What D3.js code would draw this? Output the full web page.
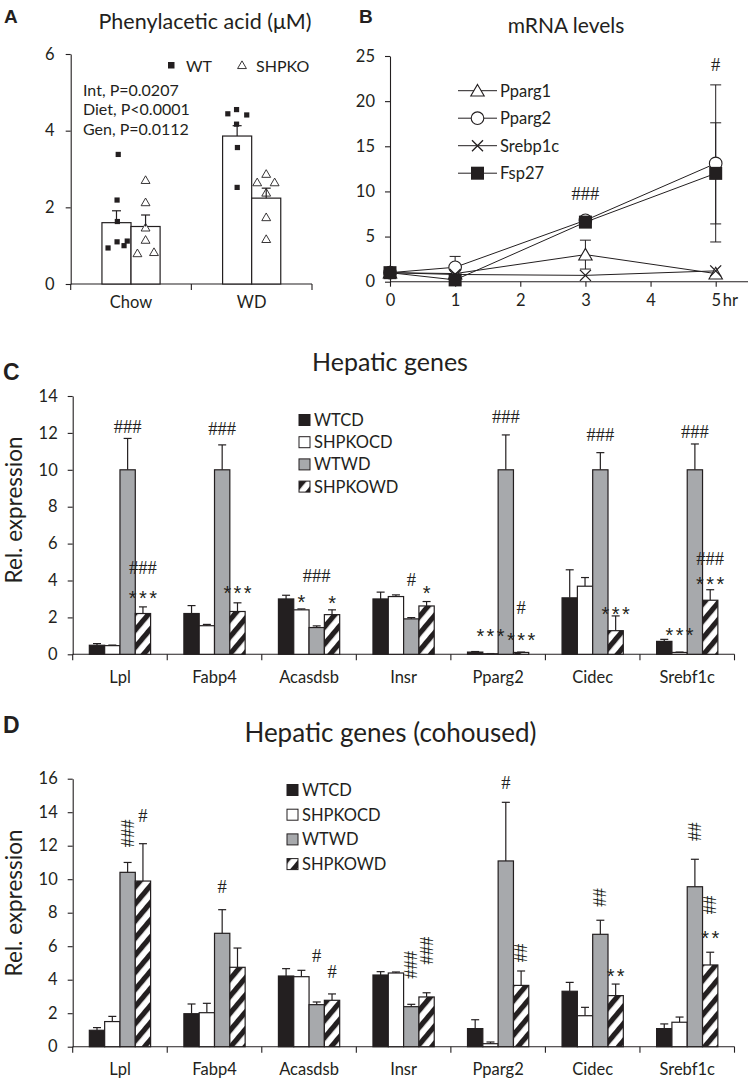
<!DOCTYPE html>
<html><head><meta charset="utf-8">
<script src="https://cdn.jsdelivr.net/npm/d3@7"></script>
<style>
body{margin:0;background:#fff}
svg{display:block}
text{font-family:Lato,'Open Sans',sans-serif;fill:#231f20}
</style>
</head><body>
<svg id="chart" width="750" height="1078"></svg>
<script>
// ---------- Panel A data ----------
const aDiets = ["Chow", "WD"];
const aGenotypes = ["WT", "SHPKO"];
const aMeanWT = [1.60, 3.86];
const aSemWT = [0.31, 0.27];
const aMeanKO = [1.50, 2.24];
const aSemKO = [0.30, 0.26];
const aPtsWTChow = [3.38, 2.19, 1.63, 0.94, 1.10, 1.00, 1.12];
const aPtsKOChow = [2.71, 2.13, 1.47, 1.15, 0.80, 0.83];
const aPtsWTWD = [4.44, 4.55, 4.17, 4.41, 3.56, 2.52];
const aPtsKOWD = [2.65, 2.87, 2.65, 2.38, 1.74, 1.17];
const aStats = ["Int, P=0.0207", "Diet, P<0.0001", "Gen, P=0.0112"];
const aTicks = [0, 2, 4, 6];
// jitter (fraction of bar width) – layout only
const jWTChow = [0.06, 0.02, 0.03, -0.29, 0.02, 0.26, 0.37];
const jKOChow = [0, 0, 0, 0, -0.28, 0.29];
const jWTWD = [-0.32, -0.02, -0.02, 0.33, 0.01, 0];
const jKOWD = [-0.31, 0, 0.29, 0, 0, 0];

// ---------- Panel B data ----------
const bTimes = [0, 1, 3, 5];
const bSeries = ["Pparg1", "Pparg2", "Srebp1c", "Fsp27"];
const bPparg1 = [1.0, 0.9, 3.0, 0.9];
const bPparg1Err = [0, 0, 1.6, 0];
const bPparg2 = [1.0, 1.6, 6.8, 13.1];
const bPparg2Err = [0, 1.2, 0.3, 8.7];
const bSrebp1c = [1.0, 0.8, 0.7, 1.2];
const bSrebp1cErr = [0, 0, 0, 0];
const bFsp27 = [1.0, 0.2, 6.6, 12.0];
const bFsp27Err = [0, 0, 0.3, 5.6];
const bYTicks = [0, 5, 10, 15, 20, 25];
const bXTicks = [0, 1, 2, 3, 4, 5];
const bAnn = [[3, 9.7, "###"], [5, 24.0, "#"]];

// ---------- Panel C / D data ----------
const genes = ["Lpl", "Fabp4", "Acasdsb", "Insr", "Pparg2", "Cidec", "Srebf1c"];
const groups = ["WTCD", "SHPKOCD", "WTWD", "SHPKOWD"];

const cWTCD = [0.49, 2.21, 3.00, 3.00, 0.12, 3.06, 0.70];
const cWTCDErr = [0.09, 0.43, 0.20, 0.37, 0.03, 1.52, 0.11];
const cSHPKOCD = [0.47, 1.55, 2.41, 3.13, 0.03, 3.69, 0.10];
const cSHPKOCDErr = [0.03, 0.07, 0.05, 0.09, 0.01, 0.47, 0.02];
const cWTWD = [10, 10, 1.45, 1.92, 10, 10, 10];
const cWTWDErr = [1.70, 1.35, 0.09, 0.07, 1.89, 0.93, 1.40];
const cSHPKOWD = [2.21, 2.32, 2.15, 2.62, 0.10, 1.28, 2.93];
const cSHPKOWDErr = [0.36, 0.47, 0.26, 0.24, 0.02, 0.80, 0.57];
const cTicks = [0, 2, 4, 6, 8, 10, 12, 14];
// [gene, group, text, y (data units, text centre), rotated]
const cAnn = [
  ["Lpl", "WTWD", "###", 12.34, 0], ["Lpl", "SHPKOWD", "###", 4.66, 0], ["Lpl", "SHPKOWD", "***", 3.39, 0],
  ["Fabp4", "WTWD", "###", 12.2, 0], ["Fabp4", "SHPKOWD", "***", 3.66, 0],
  ["Acasdsb", "WTWD", "###", 4.24, 0], ["Acasdsb", "SHPKOCD", "*", 3.16, 0], ["Acasdsb", "SHPKOWD", "*", 3.09, 0],
  ["Insr", "WTWD", "#", 4.03, 0], ["Insr", "SHPKOWD", "*", 3.66, 0],
  ["Pparg2", "SHPKOCD", "***", 1.32, 0], ["Pparg2", "WTWD", "###", 12.88, 0], ["Pparg2", "SHPKOWD", "#", 2.49, 0], ["Pparg2", "SHPKOWD", "***", 1.08, 0],
  ["Cidec", "WTWD", "###", 11.89, 0], ["Cidec", "SHPKOWD", "***", 2.49, 0],
  ["Srebf1c", "WTWD", "###", 12.07, 0], ["Srebf1c", "SHPKOCD", "***", 1.36, 0], ["Srebf1c", "SHPKOWD", "###", 5.15, 0], ["Srebf1c", "SHPKOWD", "***", 4.12, 0]
];

const dWTCD = [0.98, 1.97, 4.22, 4.28, 1.08, 3.31, 1.08];
const dWTCDErr = [0.16, 0.58, 0.44, 0.20, 0.53, 0.53, 0.28];
const dSHPKOCD = [1.50, 2.03, 4.18, 4.40, 0.18, 1.85, 1.46];
const dSHPKOCDErr = [0.31, 0.56, 0.38, 0.06, 0.10, 0.50, 0.31];
const dWTWD = [10.41, 6.77, 2.51, 2.39, 11.09, 6.71, 9.55];
const dWTWDErr = [0.59, 1.41, 0.16, 0.14, 3.50, 0.84, 1.64];
const dSHPKOWD = [9.89, 4.74, 2.77, 2.97, 3.66, 3.05, 4.88];
const dSHPKOWDErr = [2.23, 1.15, 0.38, 0.25, 0.86, 0.69, 0.76];
const dTicks = [0, 2, 4, 6, 8, 10, 12, 14, 16];
const dAnn = [
  ["Lpl", "WTWD", "###", 12.74, 1], ["Lpl", "SHPKOWD", "#", 13.77, 0],
  ["Fabp4", "WTWD", "#", 9.52, 0],
  ["Acasdsb", "WTWD", "#", 5.43, 0], ["Acasdsb", "SHPKOWD", "#", 4.44, 0],
  ["Insr", "WTWD", "###", 4.88, 1], ["Insr", "SHPKOWD", "###", 5.73, 1],
  ["Pparg2", "WTWD", "#", 15.73, 0], ["Pparg2", "SHPKOWD", "##", 5.59, 1],
  ["Cidec", "WTWD", "##", 8.91, 1], ["Cidec", "SHPKOWD", "**", 4.58, 0],
  ["Srebf1c", "WTWD", "##", 12.84, 1], ["Srebf1c", "SHPKOWD", "##", 8.46, 1], ["Srebf1c", "SHPKOWD", "**", 6.87, 0]
];

// ---------- drawing ----------
const INK = "#231f20";
const GRAY = "#a7a9ac";
const fmtInt = d3.format("d");
const svg = d3.select("#chart");
svg.append("rect").attr("width", 750).attr("height", 1078).attr("fill", "#fff");

const defs = svg.append("defs");
const pat = defs.append("pattern").attr("id", "hatch").attr("patternUnits", "userSpaceOnUse")
  .attr("width", 11).attr("height", 11).attr("patternTransform", "rotate(40)");
pat.append("rect").attr("width", 11).attr("height", 11).attr("fill", "#fff");
pat.append("rect").attr("width", 5.2).attr("height", 11).attr("fill", INK);

function panelLetter(x, y, t, size) {
  svg.append("text").attr("x", x).attr("y", y).text(t)
    .style("font-family", "'Liberation Sans',Arial,sans-serif").style("font-weight", "bold").style("font-size", size + "px");
}
function title(x, y, t, size) {
  svg.append("text").attr("x", x).attr("y", y).attr("text-anchor", "middle").text(t).style("font-size", size + "px");
}
function styleAxis(g) {
  g.selectAll("path.domain").attr("stroke", INK).attr("stroke-width", 1.1);
  g.selectAll(".tick line").attr("stroke", INK).attr("stroke-width", 1.1);
  g.selectAll(".tick text").style("fill", INK);
}

// ===== Panel A =====
panelLetter(4, 23, "A", 19);
title(205, 29, "Phenylacetic acid (\u03bcM)", 21.5);
{
  const yA = d3.scaleLinear([0, 6], [284, 54]);
  const xA = d3.scaleBand(aDiets, [70.7, 312]);
  const bw = xA.bandwidth();
  const xIn = d3.scaleBand(aGenotypes, [bw * 0.259, bw * 0.741]);
  const g = svg.append("g");
  const ya = g.append("g").attr("transform", "translate(70.7,0)")
    .call(d3.axisLeft(yA).tickValues(aTicks).tickFormat(fmtInt).tickSize(5).tickSizeOuter(0).tickPadding(11));
  ya.selectAll("text").style("font-size", "16.5px").style("font-family", "Lato,sans-serif");
  styleAxis(ya);
  const [x0, x1] = xA.range();
  g.append("line").attr("x1", x0).attr("x2", x1).attr("y1", yA(0)).attr("y2", yA(0)).attr("stroke", INK).attr("stroke-width", 1.1);
  [...aDiets.map(d => xA(d)), x1].forEach(v => g.append("line").attr("x1", v).attr("x2", v).attr("y1", yA(0)).attr("y2", yA(0) + 6).attr("stroke", INK).attr("stroke-width", 1.1));
  aDiets.forEach(d => g.append("text").attr("x", xA(d) + bw / 2).attr("y", yA(0) + 18).attr("text-anchor", "middle").attr("dominant-baseline", "central").style("font-size", "16.5px").text(d));

  const means = [aMeanWT, aMeanKO], sems = [aSemWT, aSemKO];
  const pts = [[aPtsWTChow, aPtsWTWD], [aPtsKOChow, aPtsKOWD]];
  const jit = [[jWTChow, jWTWD], [jKOChow, jKOWD]];
  aGenotypes.forEach((gt, gi) => {
    aDiets.forEach((d, di) => {
      const x = xA(d) + xIn(gt), w = xIn.bandwidth(), cx = x + w / 2;
      const m = means[gi][di], s = sems[gi][di];
      g.append("rect").attr("x", x).attr("y", yA(m)).attr("width", w).attr("height", yA(0) - yA(m))
        .attr("fill", "#fff").attr("stroke", INK).attr("stroke-width", 1.2);
      pts[gi][di].forEach((v, k) => {
        const px = cx + jit[gi][di][k] * w;
        if (gi === 0) {
          g.append("rect").attr("x", px - 2.6).attr("y", yA(v) - 2.6).attr("width", 5.2).attr("height", 5.2).attr("fill", INK);
        } else {
          g.append("path").attr("d", d3.symbol(d3.symbolTriangle, 34)()).attr("transform", `translate(${px},${yA(v) + 0.8})`)
            .attr("fill", "#fff").attr("stroke", INK).attr("stroke-width", 0.9);
        }
      });
      g.append("line").attr("x1", cx).attr("x2", cx).attr("y1", yA(m)).attr("y2", yA(m + s)).attr("stroke", INK).attr("stroke-width", 1.2);
      g.append("line").attr("x1", cx - 4.5).attr("x2", cx + 4.5).attr("y1", yA(m + s)).attr("y2", yA(m + s)).attr("stroke", INK).attr("stroke-width", 1.2);
    });
  });
  g.append("rect").attr("x", 168).attr("y", 62).attr("width", 6.5).attr("height", 6.5).attr("fill", INK);
  g.append("text").attr("x", 186).attr("y", 65).attr("dominant-baseline", "central").style("font-size", "16px").text(aGenotypes[0]);
  g.append("path").attr("d", d3.symbol(d3.symbolTriangle, 34)()).attr("transform", "translate(242,66)")
    .attr("fill", "#fff").attr("stroke", INK).attr("stroke-width", 0.9);
  g.append("text").attr("x", 256).attr("y", 65).attr("dominant-baseline", "central").style("font-size", "16px").text(aGenotypes[1]);
  aStats.forEach((s, i) => g.append("text").attr("x", 83).attr("y", 89 + i * 19.5).attr("dominant-baseline", "central").style("font-size", "16px").text(s));
}

// ===== Panel B =====
panelLetter(359, 23, "B", 19);
title(566, 33, "mRNA levels", 21);
{
  const yB = d3.scaleLinear([0, 25], [281.7, 56]);
  const xB = d3.scaleLinear([0, 5], [390, 715.7]);
  const g = svg.append("g");
  const ya = g.append("g").attr("transform", "translate(390,0)")
    .call(d3.axisLeft(yB).tickValues(bYTicks).tickFormat(fmtInt).tickSize(5).tickSizeOuter(0).tickPadding(10));
  ya.selectAll("text").style("font-size", "16.5px");
  styleAxis(ya);
  const xa = g.append("g").attr("transform", `translate(0,${yB(0)})`)
    .call(d3.axisBottom(xB).tickValues(bXTicks).tickFormat(fmtInt).tickSize(5).tickSizeOuter(0).tickPadding(8));
  xa.select("path.domain").remove();
  xa.selectAll("text").style("font-size", "16.5px");
  styleAxis(xa);
  g.append("line").attr("x1", 390).attr("x2", 748).attr("y1", yB(0)).attr("y2", yB(0)).attr("stroke", INK).attr("stroke-width", 1.1);
  g.append("text").attr("x", xB(5) + 7).attr("y", yB(0) + 13).attr("dy", "0.71em").style("font-size", "16.5px").text("hr");

  const vals = [bPparg1, bPparg2, bSrebp1c, bFsp27];
  const errs = [bPparg1Err, bPparg2Err, bSrebp1cErr, bFsp27Err];
  vals.forEach((v, si) => v.forEach((m, i) => {
    const e = errs[si][i]; if (!e) return;
    const cx = xB(bTimes[i]);
    g.append("line").attr("x1", cx).attr("x2", cx).attr("y1", yB(m - e)).attr("y2", yB(m + e)).attr("stroke", INK).attr("stroke-width", 1);
    [m - e, m + e].forEach(yv => g.append("line").attr("x1", cx - 5.5).attr("x2", cx + 5.5).attr("y1", yB(yv)).attr("y2", yB(yv)).attr("stroke", INK).attr("stroke-width", 1));
  }));
  const line = d3.line().x((d, i) => xB(bTimes[i])).y(d => yB(d));
  vals.forEach(v => g.append("path").attr("d", line(v)).attr("fill", "none").attr("stroke", INK).attr("stroke-width", 1));

  function marker(sel, type, x, y) {
    if (type === 0) sel.append("path").attr("d", d3.symbol(d3.symbolTriangle, 78)()).attr("transform", `translate(${x},${y + 1.5})`).attr("fill", "#fff").attr("stroke", INK).attr("stroke-width", 1.1);
    if (type === 1) sel.append("circle").attr("cx", x).attr("cy", y).attr("r", 6.3).attr("fill", "#fff").attr("stroke", INK).attr("stroke-width", 1.1);
    if (type === 2) { const s = 5.5; sel.append("path").attr("d", `M${x - s},${y - s}L${x + s},${y + s}M${x - s},${y + s}L${x + s},${y - s}`).attr("stroke", INK).attr("stroke-width", 1.3); }
    if (type === 3) sel.append("rect").attr("x", x - 6.5).attr("y", y - 6.5).attr("width", 13).attr("height", 13).attr("fill", INK);
  }
  vals.forEach((v, si) => v.forEach((m, i) => marker(g, si, xB(bTimes[i]), yB(m))));
  bAnn.forEach(a => g.append("text").attr("x", xB(a[0])).attr("y", yB(a[1])).attr("text-anchor", "middle").attr("dominant-baseline", "central")
    .style("font-family", "'Liberation Serif',serif").style("font-size", "18.5px").text(a[2]));
  bSeries.forEach((s, i) => {
    const ly = 90.7 + i * 27.5;
    g.append("line").attr("x1", 458).attr("x2", 497).attr("y1", ly).attr("y2", ly).attr("stroke", INK).attr("stroke-width", 1);
    marker(g, i, 477.5, ly);
    g.append("text").attr("x", 500).attr("y", ly).attr("dominant-baseline", "central").style("font-size", "16.5px").text(s);
  });
}

// ===== Panels C, D =====
function groupedPanel(opt) {
  const g = svg.append("g");
  const y = d3.scaleLinear([0, opt.ticks[opt.ticks.length - 1]], [opt.y0, opt.yTop]);
  const x = d3.scaleBand(genes, [72.7, 734.5]);
  const bw = x.bandwidth();
  const xi = d3.scaleBand(groups, [bw * 0.176, bw * 0.824]);
  const ya = g.append("g").attr("transform", "translate(72.7,0)")
    .call(d3.axisLeft(y).tickValues(opt.ticks).tickFormat(fmtInt).tickSize(5).tickSizeOuter(0).tickPadding(10));
  ya.selectAll("text").style("font-size", "16.5px");
  styleAxis(ya);
  g.append("line").attr("x1", 72.7).attr("x2", 734.5).attr("y1", y(0)).attr("y2", y(0)).attr("stroke", INK).attr("stroke-width", 1.1);
  [...genes.map(d => x(d)), 734.5].forEach(v => g.append("line").attr("x1", v).attr("x2", v).attr("y1", y(0)).attr("y2", y(0) + 6).attr("stroke", INK).attr("stroke-width", 1.1));
  genes.forEach(d => g.append("text").attr("x", x(d) + bw / 2).attr("y", y(0) + 22.5).attr("text-anchor", "middle").attr("dominant-baseline", "central").style("font-size", "16.5px").text(d));
  g.append("text").attr("transform", `translate(13,${opt.ylabY}) rotate(-90)`).attr("text-anchor", "middle").attr("dominant-baseline", "central").style("font-size", "22.5px").text("Rel. expression");

  const fills = [INK, "#fff", GRAY, "url(#hatch)"];
  groups.forEach((gr, gi) => {
    genes.forEach((gn, k) => {
      const m = opt.vals[gi][k], e = opt.errs[gi][k];
      const bx = x(gn) + xi(gr), w = xi.bandwidth(), cx = bx + w / 2;
      g.append("line").attr("x1", cx).attr("x2", cx).attr("y1", y(m)).attr("y2", y(m + e)).attr("stroke", INK).attr("stroke-width", 1.2);
      g.append("line").attr("x1", cx - 4).attr("x2", cx + 4).attr("y1", y(m + e)).attr("y2", y(m + e)).attr("stroke", INK).attr("stroke-width", 1.2);
      g.append("rect").attr("x", bx).attr("y", y(m)).attr("width", w).attr("height", y(0) - y(m))
        .attr("fill", fills[gi]).attr("stroke", INK).attr("stroke-width", 1.2);
    });
  });
  opt.ann.forEach(a => {
    const cx = x(a[0]) + xi(a[1]) + xi.bandwidth() / 2;
    const cy = y(a[3]);
    const isStar = a[2].includes("*");
    const t = g.append("text").attr("text-anchor", "middle").attr("dominant-baseline", "central").text(a[2]);
    if (isStar) {
      t.attr("x", cx + 1.2).attr("y", cy).attr("dy", "0.3em").style("font-family", "'Liberation Sans',sans-serif").style("font-size", "20px").style("letter-spacing", "2.4px");
    } else {
      t.style("font-family", "'Liberation Serif',serif").style("font-size", "18.5px");
      if (a[4]) t.attr("transform", `translate(${cx},${cy}) rotate(-90)`);
      else t.attr("x", cx).attr("y", cy);
    }
  });
  groups.forEach((gr, i) => {
    const ly = opt.legY + i * opt.legStep;
    g.append("rect").attr("x", opt.legX).attr("y", ly - 5.5).attr("width", 11).attr("height", 11)
      .attr("fill", fills[i]).attr("stroke", INK).attr("stroke-width", 1);
    g.append("text").attr("x", opt.legX + 15).attr("y", ly).attr("dominant-baseline", "central").style("font-size", "16.5px").text(gr);
  });
}

panelLetter(3, 380, "C", 23);
title(390, 371, "Hepatic genes", 25);
groupedPanel({
  ticks: cTicks, y0: 654.3, yTop: 396, ylabY: 510,
  vals: [cWTCD, cSHPKOCD, cWTWD, cSHPKOWD], errs: [cWTCDErr, cSHPKOCDErr, cWTWDErr, cSHPKOWDErr],
  ann: cAnn, legX: 299, legY: 420, legStep: 22.2
});

panelLetter(3, 733, "D", 23);
title(390.5, 742, "Hepatic genes (cohoused)", 26);
groupedPanel({
  ticks: dTicks, y0: 1046.7, yTop: 778.7, ylabY: 903,
  vals: [dWTCD, dSHPKOCD, dWTWD, dSHPKOWD], errs: [dWTCDErr, dSHPKOCDErr, dWTWDErr, dSHPKOWDErr],
  ann: dAnn, legX: 287, legY: 790, legStep: 24.7
});
</script>
</body></html>
